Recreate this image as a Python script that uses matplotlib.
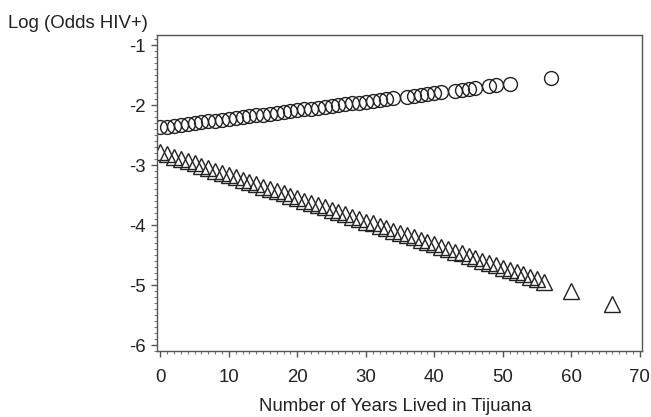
import matplotlib.pyplot as plt
from matplotlib.ticker import MultipleLocator

plt.rcParams["font.family"] = ["Liberation Sans", "DejaVu Sans"]

# Predicted log odds, group shown with circles
circle_years = [0, 1, 2, 3, 4, 5, 6, 7, 8, 9, 10, 11, 12, 13, 14, 15, 16, 17,
                18, 19, 20, 21, 22, 23, 24, 25, 26, 27, 28, 29, 30, 31, 32, 33,
                34, 36, 37, 38, 39, 40, 41, 43, 44, 45, 46, 48, 49, 51, 57]
circle_logodds = [-2.37, -2.36, -2.34, -2.33, -2.31, -2.30, -2.28, -2.27,
                  -2.26, -2.24, -2.23, -2.21, -2.20, -2.18, -2.17, -2.16,
                  -2.14, -2.13, -2.11, -2.10, -2.08, -2.07, -2.06, -2.04,
                  -2.03, -2.01, -2.00, -1.98, -1.97, -1.96, -1.94, -1.93,
                  -1.91, -1.90, -1.88, -1.86, -1.84, -1.83, -1.81, -1.80,
                  -1.78, -1.76, -1.74, -1.73, -1.71, -1.68, -1.67, -1.64,
                  -1.55]

# Group shown with triangles
triangle_years = [0, 1, 2, 3, 4, 5, 6, 7, 8, 9, 10, 11, 12, 13, 14, 15, 16,
                  17, 18, 19, 20, 21, 22, 23, 24, 25, 26, 27, 28, 29, 30, 31,
                  32, 33, 34, 35, 36, 37, 38, 39, 40, 41, 42, 43, 44, 45, 46,
                  47, 48, 49, 50, 51, 52, 53, 54, 55, 56, 60, 66]
triangle_logodds = [-2.78, -2.82, -2.86, -2.90, -2.93, -2.97, -3.01, -3.05,
                    -3.09, -3.13, -3.17, -3.20, -3.24, -3.28, -3.32, -3.36,
                    -3.40, -3.43, -3.47, -3.51, -3.55, -3.59, -3.63, -3.67,
                    -3.70, -3.74, -3.78, -3.82, -3.86, -3.90, -3.94, -3.97,
                    -4.01, -4.05, -4.09, -4.13, -4.17, -4.20, -4.24, -4.28,
                    -4.32, -4.36, -4.40, -4.44, -4.47, -4.51, -4.55, -4.59,
                    -4.63, -4.67, -4.71, -4.74, -4.78, -4.82, -4.86, -4.90,
                    -4.94, -5.09, -5.32]

x_ticks = [0, 10, 20, 30, 40, 50, 60, 70]
y_ticks = [-6, -5, -4, -3, -2, -1]

fig = plt.figure(figsize=(6.51, 4.17), dpi=100)
ax = fig.add_axes([0.241, 0.158, 0.745, 0.758])

ax.plot(circle_years, circle_logodds, linestyle="none", marker="o",
        markersize=10, markerfacecolor="none", markeredgecolor="#222222",
        markeredgewidth=1.0)
ax.plot(triangle_years, triangle_logodds, linestyle="none", marker="^",
        markersize=11, markerfacecolor="none", markeredgecolor="#222222",
        markeredgewidth=1.0)

ax.set_xlim(-0.5, 70.3)
ax.set_ylim(-6.1, -0.83)
ax.set_xticks(x_ticks)
ax.set_yticks(y_ticks)
ax.set_yticklabels([str(t) for t in y_ticks])
ax.xaxis.set_minor_locator(MultipleLocator(1))
ax.yaxis.set_minor_locator(MultipleLocator(0.1))

for spine in ax.spines.values():
    spine.set_color("#555555")
    spine.set_linewidth(1.0)
ax.tick_params(which="major", direction="out", length=4, width=1,
               color="#555555", labelsize=13.4, labelcolor="#222222")
ax.tick_params(axis="x", which="major", pad=9)
ax.tick_params(axis="y", which="major", pad=4)
ax.tick_params(which="minor", direction="out", length=2, width=0.8,
               color="#777777")
ax.tick_params(top=False, right=False, which="both")

fig.text(0.012, 0.965, "Log (Odds HIV+)", fontsize=13.4, color="#222222",
         ha="left", va="top")
fig.text(0.608, 0.024, "Number of Years Lived in Tijuana", fontsize=13.4,
         color="#222222", ha="center", va="center")

fig.savefig("out.png", dpi=100)
